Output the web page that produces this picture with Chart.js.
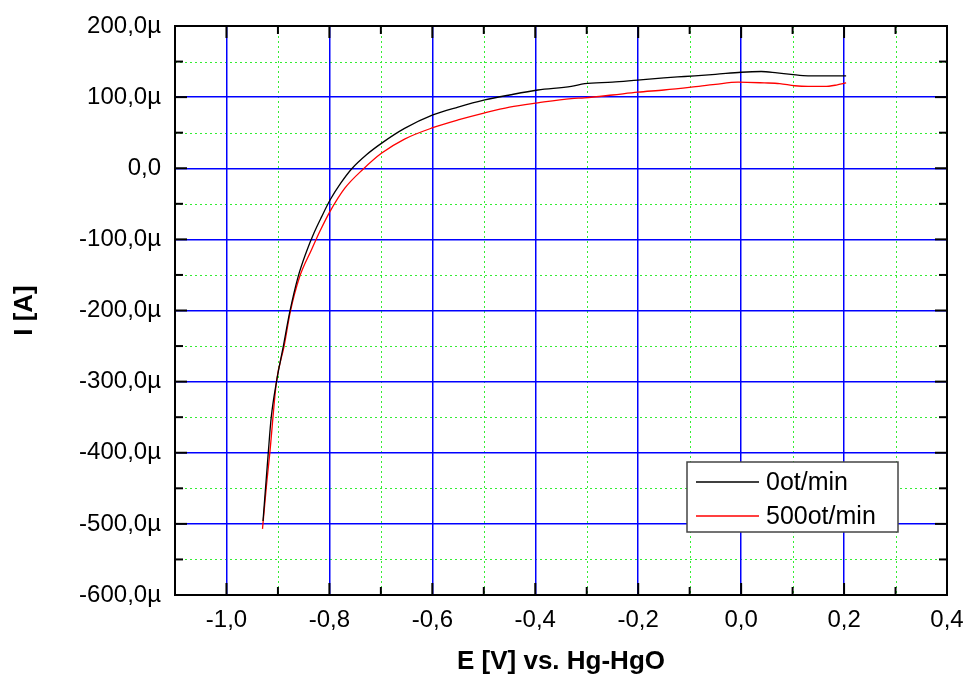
<!DOCTYPE html>
<html lang="en">

<head>
    <meta charset="UTF-8">
    <title>I vs E - Hg-HgO</title>
    <script src="https://cdn.jsdelivr.net/npm/chart.js"></script>
    <style>
        html, body { margin: 0; padding: 0; background: #fff; overflow: hidden; }
    </style>
</head>

<body>
    <canvas id="ivChart" width="968" height="679"></canvas>
    <script>
        // data (E in V, I in microamps)
        const seriesLabels = ['0ot/min', '500ot/min'];

        const e0 = [-0.929, -0.919, -0.913, -0.903, -0.890, -0.877, -0.861, -0.845, -0.830, -0.815, -0.799, -0.778,
            -0.757, -0.728, -0.699, -0.654, -0.599, -0.550, -0.498, -0.450, -0.395, -0.330, -0.304, -0.250,
            -0.201, -0.150, -0.110, -0.050, 0.000, 0.039, 0.070, 0.097, 0.130, 0.162, 0.204];
        const i0 = [-496, -402, -350, -301, -252, -202, -153, -118, -91, -68, -45, -21,
            -1, 19, 35, 56, 75, 86, 96, 103, 110, 115, 119, 121,
            124, 127, 129, 132, 135, 136, 134, 132, 130, 130, 130];

        const e500 = [-0.930, -0.922, -0.916, -0.903, -0.888, -0.876, -0.858, -0.835, -0.818, -0.799, -0.770, -0.734,
            -0.699, -0.654, -0.599, -0.550, -0.498, -0.450, -0.395, -0.330, -0.304, -0.250, -0.201, -0.150,
            -0.097, -0.050, -0.006, 0.045, 0.075, 0.104, 0.130, 0.162, 0.185, 0.204];
        const i500 = [-507, -444, -402, -301, -250, -202, -153, -115, -88, -61, -28, -1,
            21, 41, 57, 68, 78, 86, 92, 98, 99, 103, 107, 110,
            114, 118, 121, 120, 119, 116, 115, 115, 117, 120];

        const xTicks = [-1.0, -0.8, -0.6, -0.4, -0.2, 0.0, 0.2, 0.4];
        const xMinorTicks = [-1.1, -0.9, -0.7, -0.5, -0.3, -0.1, 0.1, 0.3];
        const yTicks = [-600, -500, -400, -300, -200, -100, 0, 100, 200];
        const yMinorTicks = [-550, -450, -350, -250, -150, -50, 50, 150];

        const FONT = "'Liberation Sans', Arial, sans-serif";

        function toPoints(xs, ys) {
            return xs.map((x, k) => ({ x: x, y: ys[k] }));
        }

        function fmtX(v) {
            const s = Math.abs(v) < 1e-9 ? '0.0' : v.toFixed(1);
            return s.replace('.', ',');
        }

        function fmtY(v) {
            if (v === 0) return '0,0';
            return v.toFixed(1).replace('.', ',') + 'µ';
        }

        // minor grid under everything, frame + inward ticks + legend on top
        const framePlugin = {
            id: 'frame',
            beforeDraw(chart) {
                const { ctx, chartArea: a, scales } = chart;
                ctx.save();
                ctx.strokeStyle = '#33ee33';
                ctx.lineWidth = 1;
                ctx.setLineDash([2, 3]);
                xMinorTicks.forEach(v => {
                    const px = Math.round(scales.x.getPixelForValue(v)) + 0.5;
                    ctx.beginPath();
                    ctx.moveTo(px, a.top);
                    ctx.lineTo(px, a.bottom);
                    ctx.stroke();
                });
                yMinorTicks.forEach(v => {
                    const py = Math.round(scales.y.getPixelForValue(v)) + 0.5;
                    ctx.beginPath();
                    ctx.moveTo(a.left, py);
                    ctx.lineTo(a.right, py);
                    ctx.stroke();
                });
                ctx.restore();
            },
            afterDraw(chart) {
                const { ctx, chartArea: a, scales } = chart;
                ctx.save();
                ctx.strokeStyle = '#000';
                ctx.lineWidth = 2;
                ctx.strokeRect(a.left, a.top, a.right - a.left, a.bottom - a.top);

                const tick = (x1, y1, x2, y2) => {
                    ctx.beginPath();
                    ctx.moveTo(x1, y1);
                    ctx.lineTo(x2, y2);
                    ctx.stroke();
                };
                const xAll = xTicks.map(v => [v, 12]).concat(xMinorTicks.map(v => [v, 8]));
                xAll.forEach(([v, len]) => {
                    const px = scales.x.getPixelForValue(v);
                    tick(px, a.top, px, a.top + len);
                    tick(px, a.bottom, px, a.bottom - len);
                });
                const yAll = yTicks.map(v => [v, 12]).concat(yMinorTicks.map(v => [v, 8]));
                yAll.forEach(([v, len]) => {
                    const py = scales.y.getPixelForValue(v);
                    tick(a.left, py, a.left + len, py);
                    tick(a.right, py, a.right - len, py);
                });

                // legend box
                const bx = 687, by = 462, bw = 211, bh = 70;
                ctx.fillStyle = '#fff';
                ctx.fillRect(bx, by, bw, bh);
                ctx.strokeStyle = '#444';
                ctx.lineWidth = 1.5;
                ctx.strokeRect(bx, by, bw, bh);
                ctx.font = '25px ' + FONT;
                ctx.textBaseline = 'middle';
                ctx.textAlign = 'left';
                chart.data.datasets.forEach((ds, k) => {
                    const ly = by + 20 + k * 34;
                    ctx.strokeStyle = ds.borderColor;
                    ctx.lineWidth = 1.3;
                    tick(bx + 9, ly, bx + 72, ly);
                    ctx.fillStyle = '#000';
                    ctx.fillText(ds.label, bx + 79, ly + 1);
                });
                ctx.restore();
            }
        };

        new Chart(document.getElementById('ivChart'), {
            type: 'scatter',
            data: {
                datasets: [{
                    label: seriesLabels[0],
                    data: toPoints(e0, i0),
                    borderColor: '#000000',
                    borderWidth: 1.3,
                    showLine: true,
                    pointRadius: 0,
                    cubicInterpolationMode: 'monotone'
                }, {
                    label: seriesLabels[1],
                    data: toPoints(e500, i500),
                    borderColor: '#ff0000',
                    borderWidth: 1.3,
                    showLine: true,
                    pointRadius: 0,
                    cubicInterpolationMode: 'monotone'
                }]
            },
            options: {
                responsive: false,
                animation: false,
                devicePixelRatio: 1,
                layout: { padding: { left: 0, right: 21, top: 26, bottom: 0 } },
                plugins: {
                    legend: { display: false },
                    tooltip: { enabled: false }
                },
                scales: {
                    x: {
                        type: 'linear',
                        min: -1.1,
                        max: 0.4,
                        afterBuildTicks: s => { s.ticks = xTicks.map(v => ({ value: v })); },
                        afterFit: s => { s.height = 84; s.paddingRight = 0; s.paddingLeft = 0; },
                        grid: { color: '#0000ff', lineWidth: 1.5, drawTicks: false },
                        border: { display: false },
                        ticks: {
                            color: '#000',
                            font: { family: FONT, size: 24 },
                            padding: 11,
                            maxRotation: 0,
                            autoSkip: false,
                            callback: v => fmtX(v)
                        },
                        title: {
                            display: true,
                            text: 'E [V] vs. Hg-HgO',
                            color: '#000',
                            font: { family: FONT, size: 26, weight: 'bold' },
                            padding: { top: 0, bottom: 2 }
                        }
                    },
                    y: {
                        type: 'linear',
                        min: -600,
                        max: 200,
                        afterBuildTicks: s => { s.ticks = yTicks.map(v => ({ value: v })); },
                        afterFit: s => { s.width = 175; s.paddingTop = 0; s.paddingBottom = 0; },
                        grid: { color: '#0000ff', lineWidth: 1.5, drawTicks: false },
                        border: { display: false },
                        ticks: {
                            color: '#000',
                            font: { family: FONT, size: 24 },
                            padding: 14,
                            autoSkip: false,
                            callback: v => fmtY(v)
                        },
                        title: {
                            display: true,
                            text: 'I [A]',
                            color: '#000',
                            font: { family: FONT, size: 26, weight: 'bold' },
                            padding: { top: 9, bottom: 0 }
                        }
                    }
                }
            },
            plugins: [framePlugin]
        });
    </script>
</body>

</html>
